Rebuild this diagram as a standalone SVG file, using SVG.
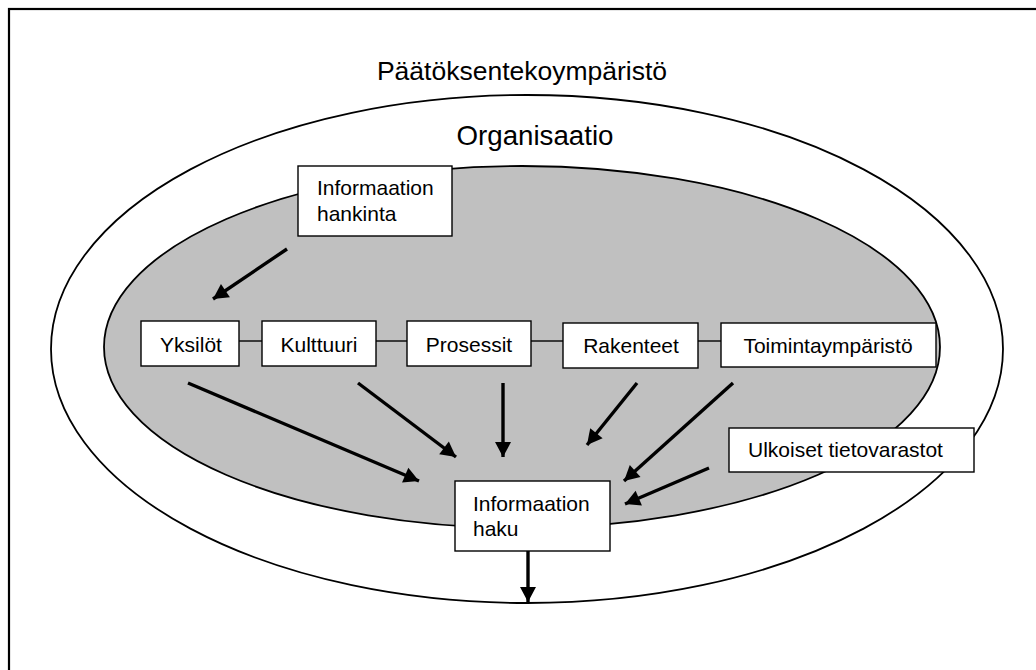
<svg xmlns="http://www.w3.org/2000/svg" width="1036" height="670" viewBox="0 0 1036 670">
<style>
text{font-family:"Liberation Sans",Arial,sans-serif;fill:#000}
.box{fill:#fff;stroke:#000;stroke-width:1.4}
.lbl{font-size:21px}
.ctr{text-anchor:middle}
.arr{stroke:#000;stroke-width:3.4;fill:none;marker-end:url(#ah)}
.link{stroke:#000;stroke-width:1.4;fill:none}
</style>
<defs>
<marker id="ah" markerUnits="userSpaceOnUse" markerWidth="18" markerHeight="18" viewBox="0 -9 16 18" refX="15" refY="0" orient="auto">
<path d="M0,-8 L15,0 L0,8 z" fill="#000"/>
</marker>
</defs>
<rect x="0" y="0" width="1036" height="670" fill="#fff"/>
<rect id="frame" x="9" y="9" width="1100" height="700" fill="none" stroke="#000" stroke-width="2.2"/>
<g id="env">
<ellipse cx="527" cy="349" rx="476" ry="254" fill="#fff" stroke="#000" stroke-width="1.8"/>
<text x="522" y="80" class="ctr" font-size="26.5">Päätöksentekoympäristö</text>
</g>
<g id="org">
<ellipse cx="522" cy="347" rx="418" ry="181" fill="#c0c0c0" stroke="#000" stroke-width="1.8"/>
<text x="535" y="145" class="ctr" font-size="27.7">Organisaatio</text>
</g>
<g id="connectors">
<line class="link" x1="239" y1="341" x2="262" y2="341"/>
<line class="link" x1="376" y1="341" x2="407" y2="341"/>
<line class="link" x1="531" y1="341" x2="563" y2="341"/>
<line class="link" x1="698" y1="341" x2="721" y2="341"/>
<line class="arr" x1="287" y1="249" x2="213" y2="299"/>
<line class="arr" x1="188" y1="383" x2="419" y2="481"/>
<line class="arr" x1="358" y1="383" x2="456" y2="457"/>
<line class="arr" x1="503" y1="383" x2="503" y2="457"/>
<line class="arr" x1="637" y1="383" x2="587" y2="445"/>
<line class="arr" x1="733" y1="383" x2="624" y2="481"/>
<line class="arr" x1="709" y1="468" x2="625" y2="504"/>
<line class="arr" x1="528" y1="551" x2="528" y2="602"/>
</g>
<g id="hankinta">
<rect class="box" x="298" y="166" width="154" height="70"/>
<text class="lbl" x="317" y="195">Informaation</text>
<text class="lbl" x="317" y="221">hankinta</text>
</g>
<g id="yksilot">
<rect class="box" x="141" y="321" width="98" height="45"/>
<text class="lbl ctr" x="191" y="352">Yksilöt</text>
</g>
<g id="kulttuuri">
<rect class="box" x="262" y="321" width="114" height="45"/>
<text class="lbl ctr" x="319" y="352">Kulttuuri</text>
</g>
<g id="prosessit">
<rect class="box" x="407" y="321" width="124" height="45"/>
<text class="lbl ctr" x="469" y="352">Prosessit</text>
</g>
<g id="rakenteet">
<rect class="box" x="563" y="323" width="135" height="45"/>
<text class="lbl ctr" x="631" y="353">Rakenteet</text>
</g>
<g id="toiminta">
<rect class="box" x="721" y="323" width="215" height="44"/>
<text class="lbl ctr" x="828" y="353">Toimintaympäristö</text>
</g>
<g id="ulkoiset">
<rect class="box" x="729" y="428" width="245" height="44"/>
<text class="lbl" x="748" y="457">Ulkoiset tietovarastot</text>
</g>
<g id="haku">
<rect class="box" x="455" y="481" width="155" height="70"/>
<text class="lbl" x="473" y="511">Informaation</text>
<text class="lbl" x="473" y="536">haku</text>
</g>
</svg>
